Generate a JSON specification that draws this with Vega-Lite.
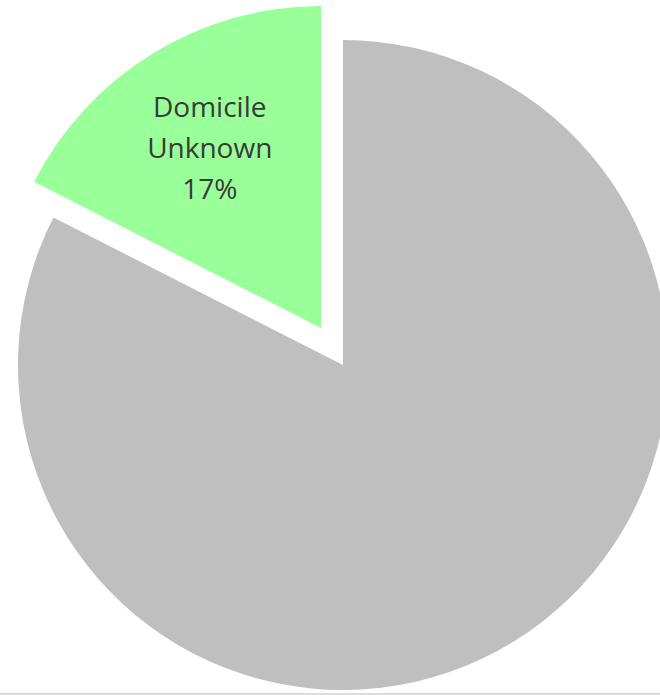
{
  "$schema": "https://vega.github.io/schema/vega-lite/v6.json",
  "autosize": {"type": "none"},
  "padding": {"left": 0, "top": 0, "right": 0, "bottom": 1},
  "width": 660,
  "height": 694,
  "background": "white",
  "config": {"view": {"stroke": null}},
  "layer": [
    {
      "data": {
        "values": [
          {"category": "Other", "value": 82.5, "label": ""},
          {"category": "Domicile Unknown", "value": 17.5, "label": "Domicile Unknown 17%"}
        ]
      },
      "encoding": {
        "theta": {"field": "value", "type": "quantitative", "stack": true},
        "order": {"field": "category", "sort": "descending"},
        "color": {
          "field": "category",
          "type": "nominal",
          "scale": {"domain": ["Domicile Unknown", "Other"], "range": ["#99FF99", "#BFBFBF"]},
          "legend": null
        }
      },
      "layer": [
        {
          "mark": {"type": "arc", "outerRadius": 325, "xOffset": 13, "yOffset": 18},
          "encoding": {
            "opacity": {"condition": {"test": "datum.category === 'Other'", "value": 1}, "value": 0}
          }
        },
        {
          "mark": {"type": "arc", "outerRadius": 322, "xOffset": -9, "yOffset": -19},
          "encoding": {
            "opacity": {"condition": {"test": "datum.category === 'Other'", "value": 0}, "value": 1}
          }
        },
        {
          "mark": {
            "type": "text",
            "radius": 212,
            "xOffset": -9.5,
            "yOffset": -57,
            "font": "Open Sans",
            "fontSize": 28,
            "lineBreak": " ",
            "lineHeight": 41,
            "align": "center",
            "baseline": "middle"
          },
          "encoding": {
            "text": {"field": "label", "type": "nominal"},
            "color": {"value": "#3a3a3a"}
          }
        }
      ]
    },
    {
      "data": {"values": [{}]},
      "mark": {"type": "rule", "color": "#dcdcdc", "strokeWidth": 2},
      "encoding": {"y": {"value": "height"}}
    }
  ]
}
